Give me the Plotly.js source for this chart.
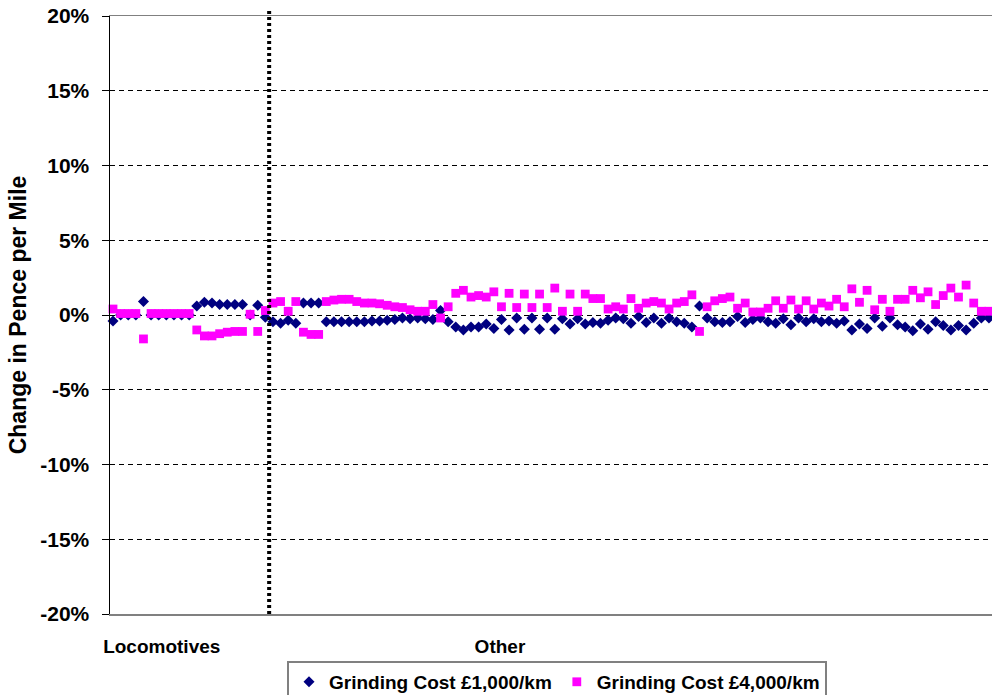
<!DOCTYPE html>
<html>
<head>
<meta charset="utf-8">
<script src="https://cdn.plot.ly/plotly-3.0.1.min.js"></script>
<style>
html,body{margin:0;padding:0;background:#fff;overflow:hidden;}
#chart{width:992px;height:695px;}
</style>
</head>
<body>
<div id="chart"></div>
<script>
// Category labels (x axis groups)
const groupLabels = ['Locomotives', 'Other'];
const locomotiveCount = 21;

// Series names
const seriesNames = ['Grinding Cost £1,000/km', 'Grinding Cost £4,000/km'];

// Change in pence per mile (%), one value per vehicle
const cost1000 = [
  -0.4, 0, 0, 0, 0.9, 0, 0, 0, 0, 0,
  0, 0.6, 0.85, 0.8, 0.7, 0.7, 0.7, 0.7, 0, 0.65,
  -0.15, -0.45, -0.55, -0.35, -0.55, 0.8, 0.8, 0.8, -0.45, -0.45,
  -0.45, -0.45, -0.45, -0.45, -0.4, -0.4, -0.35, -0.3, -0.2, -0.25,
  -0.2, -0.25, -0.3, 0.3, -0.45, -0.8, -1.0, -0.8, -0.8, -0.6,
  -0.9, -0.3, -1.0, -0.2, -0.95, -0.2, -0.95, -0.2, -0.95, -0.25,
  -0.6, -0.25, -0.6, -0.5, -0.55, -0.35, -0.2, -0.25, -0.55, -0.1,
  -0.5, -0.2, -0.55, -0.2, -0.45, -0.55, -0.8, 0.6, -0.2, -0.45,
  -0.5, -0.45, -0.1, -0.5, -0.3, -0.2, -0.45, -0.55, -0.25, -0.65,
  -0.2, -0.45, -0.25, -0.45, -0.4, -0.55, -0.4, -1.0, -0.6, -0.9,
  -0.2, -0.75, -0.2, -0.65, -0.8, -1.05, -0.6, -0.95, -0.45, -0.7,
  -1.0, -0.7, -1.0, -0.55, -0.2, -0.2, 1.3
];
const cost4000 = [
  0.4, 0.1, 0.1, 0.1, -1.6, 0.1, 0.1, 0.1, 0.1, 0.1,
  0.1, -1.0, -1.4, -1.4, -1.25, -1.15, -1.1, -1.1, 0.05, -1.1,
  0.3, 0.8, 0.9, 0.25, 0.9, -1.15, -1.3, -1.3, 0.9, 1.0,
  1.05, 1.05, 0.9, 0.8, 0.8, 0.75, 0.65, 0.55, 0.5, 0.35,
  0.25, 0.25, 0.7, -0.2, 0.55, 1.45, 1.65, 1.2, 1.3, 1.2,
  1.55, 0.55, 1.45, 0.5, 1.4, 0.5, 1.4, 0.5, 1.8, 0.25,
  1.4, 0.25, 1.4, 1.1, 1.1, 0.4, 0.55, 0.4, 1.1, 0.45,
  0.8, 0.9, 0.8, 0.4, 0.8, 0.9, 1.35, -1.1, 0.55, 0.95,
  1.1, 1.2, 0.45, 0.8, 0.2, 0.2, 0.45, 0.95, 0.45, 1.0,
  0.4, 0.95, 0.4, 0.8, 0.6, 1.05, 0.55, 1.75, 0.85, 1.65,
  0.35, 1.05, 0.25, 1.05, 1.05, 1.65, 1.15, 1.55, 0.7, 1.3,
  1.8, 1.2, 2.0, 0.8, 0.25, 0.25, null
];

// Y tick values and labels
const yTickVals = [-20, -15, -10, -5, 0, 5, 10, 15, 20];
const yTickText = ['-20%', '-15%', '-10%', '-5%', '0%', '5%', '10%', '15%', '20%'];

const xIdx = cost1000.map((_, i) => i);
const font = 'Liberation Sans, Arial, sans-serif';

const traces = [
  {
    type: 'scatter', mode: 'markers', name: seriesNames[0],
    x: xIdx, y: cost1000, cliponaxis: false,
    marker: {symbol: 'diamond', size: 8.5, color: '#000080', line: {width: 0}}
  },
  {
    type: 'scatter', mode: 'markers', name: seriesNames[1],
    x: xIdx, y: cost4000, cliponaxis: false,
    marker: {symbol: 'square', size: 8.8, color: '#FF00FF', line: {width: 0}}
  }
];

const layout = {
  width: 992, height: 695,
  margin: {l: 110, r: 0, t: 16, b: 81},
  paper_bgcolor: '#fff', plot_bgcolor: '#fff',
  font: {family: font, color: '#000'},
  showlegend: true,
  legend: {
    orientation: 'h', xref: 'container', yref: 'container',
    x: 0.5615, xanchor: 'center', y: 0.049, yanchor: 'top',
    bgcolor: '#fff', bordercolor: '#808080', borderwidth: 2,
    font: {family: font, size: 19, weight: 'bold', color: '#000'},
    itemsizing: 'trace', tracegroupgap: 0, itemwidth: 30
  },
  xaxis: {
    range: [-0.394, 115.4],
    tickmode: 'array',
    tickvals: [6.4, 50.8],
    ticktext: groupLabels,
    ticks: '', ticklabelstandoff: 15,
    tickfont: {family: font, size: 19, weight: 'bold'},
    showgrid: false, zeroline: false,
    showline: true, linecolor: '#808080', linewidth: 1.5, mirror: true,
    fixedrange: true
  },
  yaxis: {
    range: [-20, 20],
    tickmode: 'array', tickvals: yTickVals, ticktext: yTickText,
    ticks: 'outside', ticklen: 7, tickcolor: '#000', tickwidth: 1,
    ticklabelstandoff: 8,
    tickfont: {family: font, size: 21, weight: 'bold'},
    showgrid: true, gridcolor: '#000', gridwidth: 1, griddash: '5px,4px',
    zeroline: false,
    showline: true, linecolor: '#000', linewidth: 1.5,
    title: {text: 'Change in Pence per Mile', standoff: 7,
            font: {family: font, size: 23, weight: 'bold'}},
    fixedrange: true
  },
  shapes: [
    {type: 'line', xref: 'x', yref: 'paper',
     x0: locomotiveCount - 0.5, x1: locomotiveCount - 0.5, y0: 0, y1: 1.012,
     line: {color: '#000', width: 4, dash: '3px,3px'}}
  ]
};

Plotly.newPlot('chart', traces, layout, {displayModeBar: false, staticPlot: true});
</script>
</body>
</html>
